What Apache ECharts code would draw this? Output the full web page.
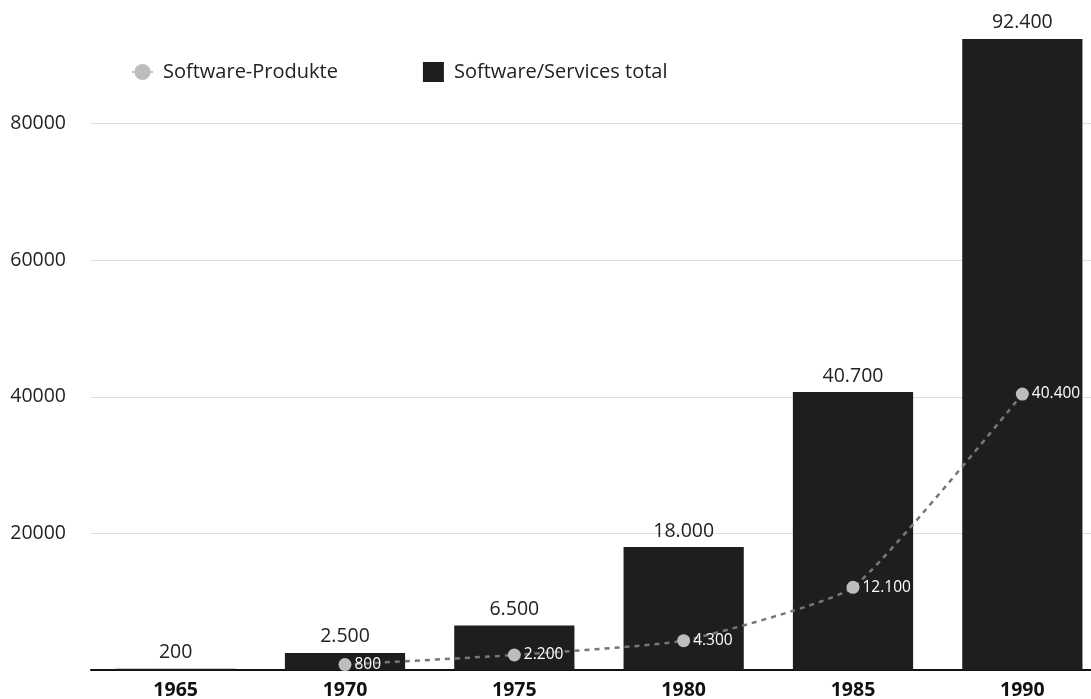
<!DOCTYPE html>
<html>
<head>
<meta charset="utf-8">
<script src="https://cdn.jsdelivr.net/npm/echarts@6/dist/echarts.min.js"></script>
<style>
html,body{margin:0;padding:0;background:#fff;}
#chart{width:1091px;height:699px;}
</style>
</head>
<body>
<div id="chart"></div>
<script>
const categories = ['1965', '1970', '1975', '1980', '1985', '1990'];
const totalValues = [200, 2500, 6500, 18000, 40700, 92400];
const productValues = [null, 800, 2200, 4300, 12100, 40400];
const yTicks = [0, 20000, 40000, 60000, 80000, 100000];

function fmtDE(v) {
  return String(v).replace(/\B(?=(\d{3})+(?!\d))/g, '.');
}

const chart = echarts.init(document.getElementById('chart'));
const FONT = '"Open Sans", "Noto Sans", sans-serif';
chart.setOption({
  animation: false,
  textStyle: { fontFamily: FONT },
  legend: {
    left: 126,
    top: 57,
    itemWidth: 21,
    itemHeight: 20,
    itemGap: 85,
    textStyle: { fontFamily: FONT, fontSize: 20, color: '#222', padding: [0, 0, 0, 5] },
    data: [
      {
        name: 'Software-Produkte',
        itemStyle: { color: '#bdbdbd' },
        lineStyle: { color: '#c4c4c4', width: 2, type: 'solid' }
      },
      { name: 'Software/Services total', icon: 'rect' }
    ]
  },
  grid: { left: 91, right: -16, top: -13, bottom: 29, containLabel: false, outerBoundsMode: 'none' },
  xAxis: {
    type: 'category',
    data: categories,
    axisLine: { show: true, lineStyle: { color: '#111', width: 2 } },
    axisTick: { show: false },
    axisLabel: { fontFamily: FONT, fontSize: 19.5, fontWeight: 'bold', color: '#111', margin: 10 }
  },
  yAxis: {
    type: 'value',
    min: yTicks[0],
    max: yTicks[yTicks.length - 1],
    interval: 20000,
    axisLine: { show: false },
    axisTick: { show: false },
    splitLine: { lineStyle: { color: '#dcdcdc', width: 1 } },
    axisLabel: {
      fontFamily: FONT, fontSize: 19.5, color: '#222', margin: 25,
      formatter: function (v) { return v === 0 ? '' : String(v); }
    }
  },
  series: [
    {
      name: 'Software/Services total',
      type: 'bar',
      data: totalValues,
      barWidth: '71%',
      itemStyle: { color: '#1e1e1e' },
      label: {
        show: true, position: 'top', distance: 6,
        fontFamily: FONT, fontSize: 19.5, color: '#222',
        formatter: function (p) { return fmtDE(p.value); }
      },
      z: 1
    },
    {
      name: 'Software-Produkte',
      type: 'line',
      data: productValues,
      smooth: 0.15,
      connectNulls: false,
      symbol: 'circle',
      symbolSize: 13,
      itemStyle: { color: '#bdbdbd' },
      lineStyle: { color: '#777', width: 2.5, type: [5, 5] },
      label: {
        show: true, position: 'right', distance: 3,
        fontFamily: FONT, fontSize: 15.5, color: '#fff',
        formatter: function (p) { return p.value == null ? '' : fmtDE(p.value); }
      },
      z: 3
    }
  ]
});
</script>
</body>
</html>
